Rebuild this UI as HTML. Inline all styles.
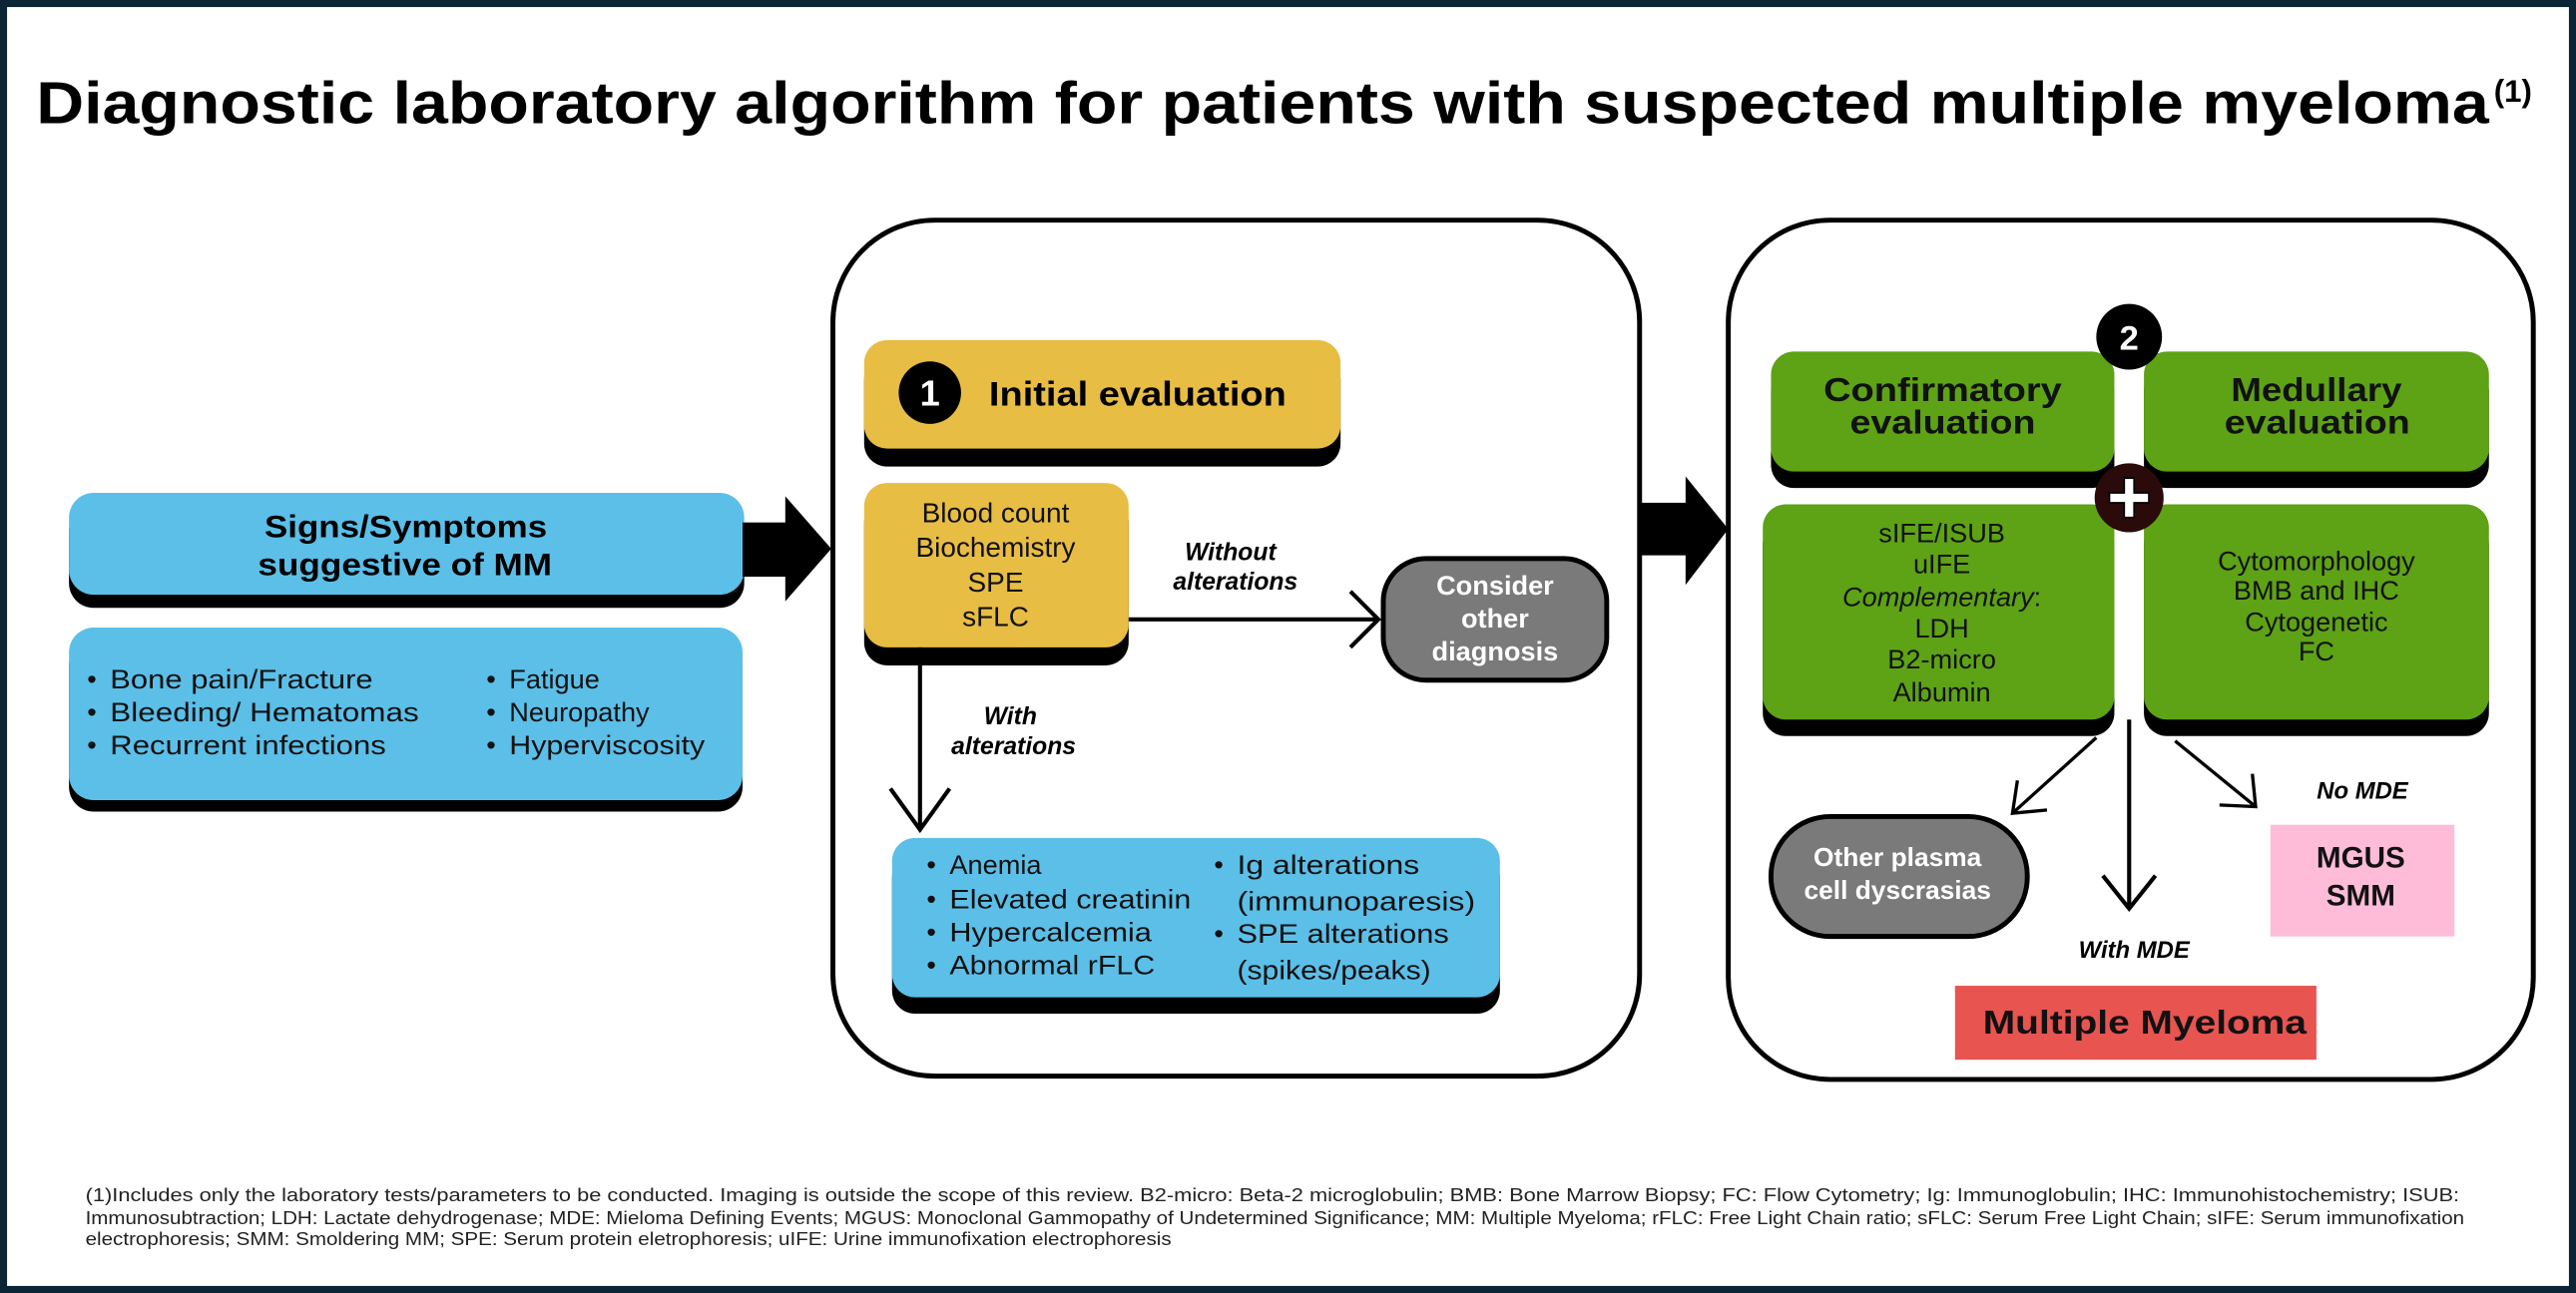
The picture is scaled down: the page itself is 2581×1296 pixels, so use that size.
<!DOCTYPE html>
<html><head><meta charset="utf-8"><style>
html,body{margin:0;padding:0;background:#0b2536;}
svg{display:block;}
text{font-family:"Liberation Sans",sans-serif;}
</style></head><body>
<svg width="2581" height="1296" viewBox="0 0 1568 787" preserveAspectRatio="none" xmlns="http://www.w3.org/2000/svg">
<rect x="0" y="0" width="1568" height="787" fill="#0b2536"/>
<rect x="4.3" y="4.3" width="1559.4" height="778.4" fill="#fff"/>

<text x="22" y="75" font-size="36" font-weight="bold" textLength="1493" lengthAdjust="spacingAndGlyphs" fill="#000">Diagnostic laboratory algorithm for patients with suspected multiple myeloma</text>
<text x="1518" y="62" font-size="19" font-weight="bold" fill="#000">(1)</text>

<rect x="42" y="308" width="411" height="62" rx="15" fill="#000"/>
<rect x="42" y="300" width="411" height="62" rx="15" fill="#5bbfe8"/>
<text x="161" y="327" font-size="19" font-weight="bold" textLength="172" lengthAdjust="spacingAndGlyphs">Signs/Symptoms</text>
<text x="157" y="350" font-size="19" font-weight="bold" textLength="179" lengthAdjust="spacingAndGlyphs">suggestive of MM</text>

<rect x="42" y="390" width="410" height="104" rx="15" fill="#000"/>
<rect x="42" y="382" width="410" height="105" rx="15" fill="#5bbfe8"/>
<g font-size="16.5" fill="#111">
<text x="53" y="419">•</text><text x="67" y="419" textLength="160" lengthAdjust="spacingAndGlyphs">Bone pain/Fracture</text>
<text x="53" y="439">•</text><text x="67" y="439" textLength="188" lengthAdjust="spacingAndGlyphs">Bleeding/ Hematomas</text>
<text x="53" y="459">•</text><text x="67" y="459" textLength="168" lengthAdjust="spacingAndGlyphs">Recurrent infections</text>
<text x="296" y="419">•</text><text x="310" y="419">Fatigue</text>
<text x="296" y="439">•</text><text x="310" y="439">Neuropathy</text>
<text x="296" y="459">•</text><text x="310" y="459" textLength="119" lengthAdjust="spacingAndGlyphs">Hyperviscosity</text>
</g>

<rect x="452" y="318" width="28" height="33" fill="#000"/>
<polygon points="478,302 506,334 478,366" fill="#000"/>

<rect x="507" y="134" width="491" height="521" rx="62" fill="none" stroke="#000" stroke-width="3"/>

<rect x="526" y="217" width="290" height="67" rx="14" fill="#000"/>
<rect x="526" y="207" width="290" height="66" rx="14" fill="#e8bd44"/>
<circle cx="566" cy="239" r="19" fill="#000"/>
<text x="566" y="247" font-size="22" font-weight="bold" fill="#fff" text-anchor="middle">1</text>
<text x="602" y="247" font-size="21" font-weight="bold" textLength="181" lengthAdjust="spacingAndGlyphs">Initial evaluation</text>

<rect x="526" y="304" width="161" height="101" rx="14" fill="#000"/>
<rect x="526" y="294" width="161" height="100" rx="14" fill="#e8bd44"/>
<g font-size="17" text-anchor="middle" fill="#111">
<text x="606" y="318">Blood count</text>
<text x="606" y="339">Biochemistry</text>
<text x="606" y="360">SPE</text>
<text x="606" y="381">sFLC</text>
</g>

<line x1="687" y1="377" x2="839" y2="377" stroke="#000" stroke-width="2.5"/>
<polyline points="822,360 839,377 822,394" fill="none" stroke="#000" stroke-width="2.5"/>
<g font-size="15" font-weight="bold" font-style="italic" text-anchor="middle">
<text x="749" y="341">Without</text>
<text x="752" y="359">alterations</text>
<text x="615" y="441">With</text>
<text x="617" y="459">alterations</text>
</g>

<rect x="842" y="340" width="136" height="74" rx="26" fill="#7a7a7a" stroke="#000" stroke-width="3"/>
<g font-size="16.5" font-weight="bold" fill="#fff" text-anchor="middle">
<text x="910" y="362">Consider</text>
<text x="910" y="382">other</text>
<text x="910" y="402">diagnosis</text>
</g>

<line x1="560" y1="394" x2="560" y2="505" stroke="#000" stroke-width="2.5"/>
<polyline points="542,480 560,505 578,480" fill="none" stroke="#000" stroke-width="2.5"/>

<rect x="543" y="520" width="370" height="97" rx="14" fill="#000"/>
<rect x="543" y="510" width="370" height="97" rx="14" fill="#5bbfe8"/>
<g font-size="16.5" fill="#111">
<text x="564" y="532">•</text><text x="578" y="532">Anemia</text>
<text x="564" y="553">•</text><text x="578" y="553" textLength="147" lengthAdjust="spacingAndGlyphs">Elevated creatinin</text>
<text x="564" y="573">•</text><text x="578" y="573" textLength="123" lengthAdjust="spacingAndGlyphs">Hypercalcemia</text>
<text x="564" y="593">•</text><text x="578" y="593" textLength="125" lengthAdjust="spacingAndGlyphs">Abnormal rFLC</text>
<text x="739" y="532">•</text><text x="753" y="532" textLength="111" lengthAdjust="spacingAndGlyphs">Ig alterations</text>
<text x="753" y="554" textLength="145" lengthAdjust="spacingAndGlyphs">(immunoparesis)</text>
<text x="739" y="574">•</text><text x="753" y="574" textLength="129" lengthAdjust="spacingAndGlyphs">SPE alterations</text>
<text x="753" y="596" textLength="118" lengthAdjust="spacingAndGlyphs">(spikes/peaks)</text>
</g>

<rect x="997" y="306" width="31" height="32" fill="#000"/>
<polygon points="1026,290 1052,322 1026,356" fill="#000"/>

<rect x="1052" y="134" width="490" height="523" rx="62" fill="none" stroke="#000" stroke-width="3"/>

<rect x="1078" y="224" width="209" height="73" rx="14" fill="#000"/>
<rect x="1078" y="214" width="209" height="73" rx="14" fill="#5ea215"/>
<rect x="1305" y="224" width="210" height="73" rx="14" fill="#000"/>
<rect x="1305" y="214" width="210" height="73" rx="14" fill="#5ea215"/>
<g font-size="20" font-weight="bold" fill="#111">
<text x="1110" y="244" textLength="145" lengthAdjust="spacingAndGlyphs">Confirmatory</text>
<text x="1126" y="264" textLength="113" lengthAdjust="spacingAndGlyphs">evaluation</text>
<text x="1358" y="244" textLength="104" lengthAdjust="spacingAndGlyphs">Medullary</text>
<text x="1354" y="264" textLength="113" lengthAdjust="spacingAndGlyphs">evaluation</text>
</g>

<rect x="1073" y="317" width="214" height="131" rx="14" fill="#000"/>
<rect x="1073" y="307" width="214" height="131" rx="14" fill="#5ea215"/>
<rect x="1305" y="317" width="210" height="131" rx="14" fill="#000"/>
<rect x="1305" y="307" width="210" height="131" rx="14" fill="#5ea215"/>
<g font-size="16.5" text-anchor="middle" fill="#111">
<text x="1182" y="330">sIFE/ISUB</text>
<text x="1182" y="349">uIFE</text>
<text x="1182" y="369"><tspan font-style="italic">Complementary</tspan>:</text>
<text x="1182" y="388">LDH</text>
<text x="1182" y="407">B2-micro</text>
<text x="1182" y="427">Albumin</text>
<text x="1410" y="347">Cytomorphology</text>
<text x="1410" y="365">BMB and IHC</text>
<text x="1410" y="384">Cytogenetic</text>
<text x="1410" y="402">FC</text>
</g>

<circle cx="1296" cy="205" r="20" fill="#000"/>
<text x="1296" y="213" font-size="21" font-weight="bold" fill="#fff" text-anchor="middle">2</text>
<circle cx="1296" cy="303" r="21" fill="#2a0a0a"/>
<path d="M1293,291 h6 v9 h9 v6 h-9 v9 h-6 v-9 h-9 v-6 h9 z" fill="#fff" stroke="#000" stroke-width="1"/>

<line x1="1276" y1="449" x2="1225" y2="495" stroke="#000" stroke-width="2"/>
<polyline points="1228,475 1225,495 1246,493" fill="none" stroke="#000" stroke-width="2"/>
<line x1="1296" y1="438" x2="1296" y2="553" stroke="#000" stroke-width="2.5"/>
<polyline points="1280,533 1296,553 1312,533" fill="none" stroke="#000" stroke-width="2.5"/>
<line x1="1324" y1="451" x2="1373" y2="491" stroke="#000" stroke-width="2"/>
<polyline points="1351,490 1373,491 1371,471" fill="none" stroke="#000" stroke-width="2"/>

<g font-size="14.5" font-weight="bold" font-style="italic" text-anchor="middle">
<text x="1438" y="486">No  MDE</text>
<text x="1299" y="583">With MDE</text>
</g>

<rect x="1078" y="497" width="156" height="73" rx="36" fill="#7a7a7a" stroke="#000" stroke-width="3"/>
<g font-size="16" font-weight="bold" fill="#fff" text-anchor="middle">
<text x="1155" y="527">Other plasma</text>
<text x="1155" y="547">cell dyscrasias</text>
</g>

<rect x="1382" y="502" width="112" height="68" fill="#ffbcd9"/>
<g font-size="18" font-weight="bold" text-anchor="middle" fill="#111">
<text x="1437" y="528">MGUS</text>
<text x="1437" y="551">SMM</text>
</g>

<rect x="1190" y="600" width="220" height="45" fill="#e85450"/>
<text x="1207" y="629" font-size="20" font-weight="bold" fill="#111" textLength="197" lengthAdjust="spacingAndGlyphs">Multiple Myeloma</text>

<g font-size="11.3" fill="#222">
<text x="52" y="731" textLength="1445" lengthAdjust="spacingAndGlyphs">(1)Includes only the laboratory tests/parameters to be conducted. Imaging is outside the scope of this review. B2-micro: Beta-2 microglobulin; BMB: Bone Marrow Biopsy; FC: Flow Cytometry; Ig: Immunoglobulin; IHC: Immunohistochemistry; ISUB:</text>
<text x="52" y="745" textLength="1448" lengthAdjust="spacingAndGlyphs">Immunosubtraction; LDH: Lactate dehydrogenase; MDE: Mieloma Defining Events; MGUS: Monoclonal Gammopathy of Undetermined Significance; MM: Multiple Myeloma; rFLC: Free Light Chain ratio; sFLC: Serum Free Light Chain; sIFE: Serum immunofixation</text>
<text x="52" y="758" textLength="661" lengthAdjust="spacingAndGlyphs">electrophoresis; SMM: Smoldering MM; SPE: Serum protein eletrophoresis; uIFE: Urine immunofixation electrophoresis</text>
</g>
</svg>
</body></html>
